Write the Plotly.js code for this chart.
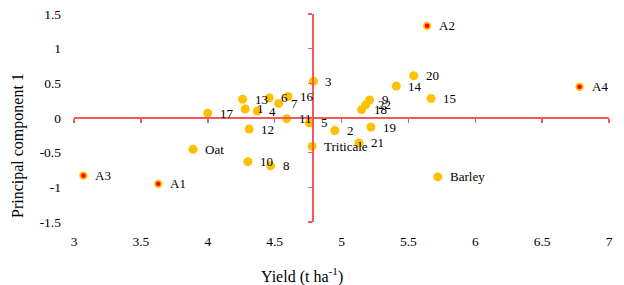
<!DOCTYPE html>
<html>
<head>
<meta charset="utf-8">
<script src="https://cdn.plot.ly/plotly-3.0.1.min.js"></script>
<style>html,body{margin:0;padding:0;background:#fff;}#chart{width:624px;height:285px;}</style>
</head>
<body>
<div id="chart"></div>
<script>
// Genotypes / checks (orange points)
const genoLabels = ['1','2','3','4','5','6','7','8','9','10','11','12','13','14','15','16','17','18','19','20','21','22','Oat','Triticale','Barley'];
const genoYield  = [4.28, 4.95, 4.79, 4.37, 4.76, 4.46, 4.53, 4.47, 5.21, 4.30, 4.59, 4.31, 4.26, 5.41, 5.67, 4.60, 4.00, 5.15, 5.22, 5.54, 5.13, 5.18, 3.89, 4.78, 5.72];
const genoPC1    = [0.13, -0.18, 0.53, 0.10, -0.07, 0.29, 0.21, -0.69, 0.26, -0.63, -0.01, -0.16, 0.27, 0.46, 0.28, 0.31, 0.07, 0.12, -0.13, 0.61, -0.36, 0.19, -0.45, -0.41, -0.85];

// A-series points (red)
const aLabels = ['A1','A2','A3','A4'];
const aYield  = [3.63, 5.64, 3.07, 6.78];
const aPC1    = [-0.95, 1.33, -0.83, 0.45];

// Axis ticks and reference lines
const xTicks = [3, 3.5, 4, 4.5, 5, 5.5, 6, 6.5, 7];
const yTicks = [-1.5, -1, -0.5, 0, 0.5, 1, 1.5];
const xRange = [3, 7];
const yRange = [-1.5, 1.5];
const meanYield = 4.79;
const pcCenter = 0;

const serif = '"Liberation Serif", "Times New Roman", serif';
const orange = '#FFC000';
const red = '#EF5B5B';

const traces = [
  {x: genoYield, y: genoPC1, type: 'scatter', mode: 'markers',
   marker: {color: orange, size: 9}, hoverinfo: 'text', text: genoLabels},
  {x: aYield, y: aPC1, type: 'scatter', mode: 'markers',
   marker: {color: '#FF0000', size: 6.5, line: {color: orange, width: 1.8}}, hoverinfo: 'text', text: aLabels},
  {x: [], y: [], xaxis: 'x2', yaxis: 'y', type: 'scatter', showlegend: false},
  {x: [], y: [], xaxis: 'x', yaxis: 'y2', type: 'scatter', showlegend: false}
];

const W = 624, H = 285;
const m = {l: 74, r: 15, t: 14, b: 63};
const pw = W - m.l - m.r, ph = H - m.t - m.b;

const annotations = [];
const allLabels = genoLabels.concat(aLabels);
const allX = genoYield.concat(aYield);
const allY = genoPC1.concat(aPC1);
for (let i = 0; i < allLabels.length; i++) {
  annotations.push({x: allX[i], y: allY[i], xref: 'x', yref: 'y', text: allLabels[i],
    showarrow: false, xanchor: 'left', yanchor: 'middle', xshift: 10,
    font: {family: serif, size: 13, color: '#000'}});
}
annotations.push({x: (302 - m.l) / pw, y: (H - m.b - 275) / ph, xref: 'paper', yref: 'paper',
  text: 'Yield (t ha<sup>-1</sup>)', showarrow: false, xanchor: 'center', yanchor: 'middle',
  font: {family: serif, size: 16, color: '#000'}});
annotations.push({x: (18 - m.l) / pw, y: (H - m.b - 146) / ph, xref: 'paper', yref: 'paper',
  text: 'Principal component 1', textangle: -90, showarrow: false,
  xanchor: 'center', yanchor: 'middle', font: {family: serif, size: 16, color: '#000'}});

const layout = {
  width: W, height: H,
  margin: m,
  paper_bgcolor: '#fff', plot_bgcolor: '#fff',
  showlegend: false,
  xaxis: {range: xRange, tickvals: xTicks, ticktext: xTicks.map(String), showgrid: false, zeroline: false,
    showline: false, ticks: '', tickfont: {family: serif, size: 13.5, color: '#000'}, ticklabelstandoff: 9, fixedrange: true},
  yaxis: {range: yRange, tickvals: yTicks, ticktext: yTicks.map(String), showgrid: false, zeroline: false,
    showline: false, ticks: '', tickfont: {family: serif, size: 13.5, color: '#000'}, ticklabelstandoff: 12, fixedrange: true},
  xaxis2: {overlaying: 'x', anchor: 'free', position: (pcCenter - yRange[0]) / (yRange[1] - yRange[0]),
    range: xRange, tickvals: xTicks, showticklabels: false, showgrid: false, zeroline: false,
    showline: true, linecolor: red, linewidth: 2, ticks: 'outside', ticklen: 4, tickwidth: 1.5, tickcolor: red, side: 'bottom'},
  yaxis2: {overlaying: 'y', anchor: 'free', position: (meanYield - xRange[0]) / (xRange[1] - xRange[0]),
    range: yRange, tickvals: yTicks, showticklabels: false, showgrid: false, zeroline: false,
    showline: true, linecolor: red, linewidth: 2, ticks: 'outside', ticklen: 4, tickwidth: 1.5, tickcolor: red, side: 'left'},
  annotations: annotations
};

Plotly.newPlot('chart', traces, layout, {displayModeBar: false, staticPlot: true});
</script>
</body>
</html>
